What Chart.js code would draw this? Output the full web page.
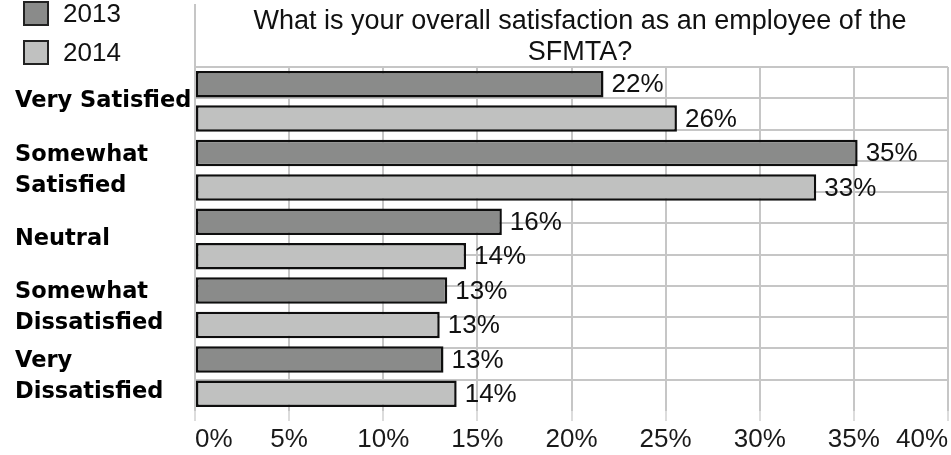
<!DOCTYPE html>
<html>
<head>
<meta charset="utf-8">
<script src="https://cdn.jsdelivr.net/npm/chart.js@4/dist/chart.umd.min.js"></script>
<style>
  html, body { margin: 0; padding: 0; background: #fff; }
  #wrap { width: 951px; height: 455px; position: relative; }
</style>
</head>
<body>
<div id="wrap"><canvas id="grafik"></canvas></div>
<script>
const kategori = [
  ["Very Satisfied"],
  ["Somewhat", "Satisfied"],
  ["Neutral"],
  ["Somewhat", "Dissatisfied"],
  ["Very", "Dissatisfied"]
];
const namaSeri = ["2013", "2014"];
const nilai2013 = [21.7, 35.2, 16.3, 13.4, 13.2];
const nilai2014 = [25.6, 33.0, 14.4, 13.0, 13.9];
const judul = ["What is your overall satisfaction as an employee of the", "SFMTA?"];

const warnaSeri = ["#8a8b8a", "#c0c1c0"];
const garisBar = "#0e0e0e";
const warnaGrid = "#c6c6c6";
const fontBiasa = "'Liberation Sans', Arial, sans-serif";

// title, legend and value labels are painted by hand
const hiasan = {
  id: "hiasan",
  afterDraw(chart) {
    const ctx = chart.ctx;
    const area = chart.chartArea;
    ctx.save();

    // axis line continues above the plot
    ctx.strokeStyle = warnaGrid;
    ctx.lineWidth = 2;
    ctx.beginPath();
    ctx.moveTo(area.left, 4);
    ctx.lineTo(area.left, area.top);
    ctx.stroke();

    ctx.fillStyle = "#111";
    ctx.font = "27px " + fontBiasa;
    ctx.textAlign = "center";
    ctx.textBaseline = "middle";
    judul.forEach((t, i) => ctx.fillText(t, 580, 22 + i * 31));

    // legend
    ctx.font = "26px " + fontBiasa;
    ctx.textAlign = "left";
    chart.data.datasets.forEach((ds, i) => {
      const y = 2 + i * 39;
      ctx.fillStyle = ds.backgroundColor;
      ctx.fillRect(24, y, 24, 23);
      ctx.strokeStyle = "#222";
      ctx.lineWidth = 2;
      ctx.strokeRect(24, y, 24, 23);
      ctx.fillStyle = "#111";
      ctx.fillText(ds.label, 63, y + 13);
    });
    ctx.restore();
  },
  afterDatasetsDraw(chart) {
    const ctx = chart.ctx;
    ctx.save();
    ctx.font = "26px " + fontBiasa;
    ctx.fillStyle = "#111";
    ctx.textAlign = "left";
    ctx.textBaseline = "middle";
    chart.data.datasets.forEach((ds, i) => {
      chart.getDatasetMeta(i).data.forEach((bar, j) => {
        ctx.fillText(Math.round(ds.data[j]) + "%", bar.x + 8, bar.y + 1);
      });
    });
    ctx.restore();
  }
};

new Chart(document.getElementById("grafik"), {
  type: "bar",
  data: {
    labels: kategori,
    datasets: [
      { label: namaSeri[0], data: nilai2013, backgroundColor: warnaSeri[0] },
      { label: namaSeri[1], data: nilai2014, backgroundColor: warnaSeri[1] }
    ]
  },
  options: {
    indexAxis: "y",
    responsive: true,
    maintainAspectRatio: false,
    animation: false,
    layout: { padding: { top: 67, left: 15, right: 3, bottom: 0 } },
    datasets: {
      bar: {
        borderColor: garisBar,
        borderWidth: 2.5,
        borderSkipped: false,
        categoryPercentage: 1,
        barPercentage: 0.77
      }
    },
    scales: {
      x: {
        min: 0,
        max: 40,
        afterFit: s => { s.height = 44; },
        grid: { color: warnaGrid, lineWidth: 2, tickLength: 10, tickColor: "#dcdcdc" },
        border: { display: false },
        ticks: {
          stepSize: 5,
          align: "inner",
          padding: 3,
          color: "#1a1a1a",
          font: { family: fontBiasa, size: 26 },
          callback: v => v + "%"
        }
      },
      y: {
        grid: { display: false },
        border: { display: false },
        afterFit: s => { s.width = 180; },
        ticks: {
          crossAlign: "far",
          color: "#000",
          font: { family: "'DejaVu Sans', sans-serif", size: 22.5, weight: "bold", lineHeight: 1.38 }
        }
      },
      // one grid line under every bar band
      pita: {
        type: "linear",
        position: "right",
        min: 0,
        max: 10,
        afterFit: s => { s.width = 0; },
        border: { display: false },
        grid: {
          drawTicks: false,
          lineWidth: 2,
          color: c => (c.tick && c.tick.value === 0 ? "rgba(0,0,0,0)" : warnaGrid)
        },
        ticks: { display: false, stepSize: 1 }
      }
    },
    plugins: {
      legend: { display: false },
      title: { display: false },
      tooltip: { enabled: false }
    }
  },
  plugins: [hiasan]
});
</script>
</body>
</html>
